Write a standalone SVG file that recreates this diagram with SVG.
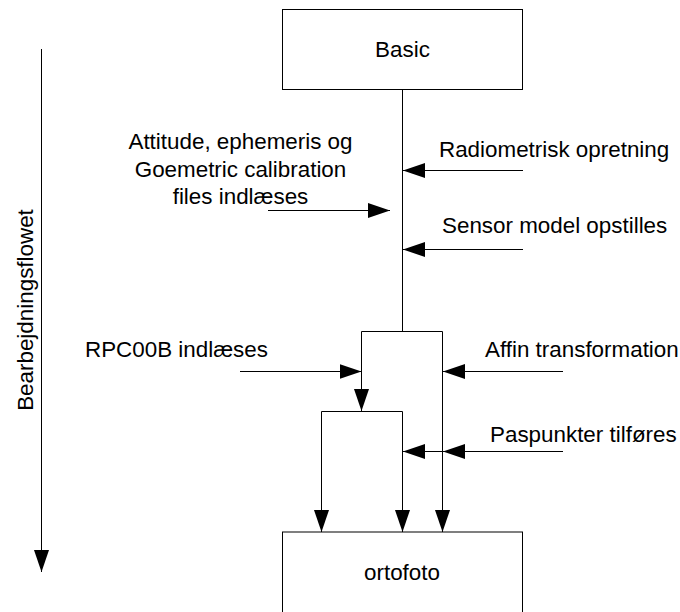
<svg xmlns="http://www.w3.org/2000/svg" width="680" height="612" viewBox="0 0 680 612">
  <style>
    .box { fill: #ffffff; stroke: #000000; stroke-width: 1; }
    .line { fill: none; stroke: #000000; stroke-width: 1; }
    .arrow { marker-end: url(#head); }
    text { font-family: "Liberation Sans", Arial, sans-serif; font-size: 22.4px; fill: #000000; }
    .mid { text-anchor: middle; }
  </style>
  <defs>
    <marker id="head" markerUnits="userSpaceOnUse" markerWidth="23" markerHeight="16" refX="22" refY="7.5" orient="auto">
      <path d="M0,0 L22,7.5 L0,15 Z" fill="#000000"/>
    </marker>
  </defs>

  <rect width="680" height="612" fill="#ffffff"/>

  <!-- process direction axis -->
  <g id="axis">
    <path class="line arrow" d="M41.5,49 V572"/>
    <text class="mid" transform="translate(33,310) rotate(-90)">Bearbejdningsflowet</text>
  </g>

  <g id="basic">
    <rect class="box" x="282.5" y="9.5" width="240" height="80"/>
    <text class="mid" x="402.5" y="57">Basic</text>
  </g>

  <g id="ortofoto">
    <rect class="box" x="282.5" y="532" width="240" height="100"/>
    <text class="mid" x="402" y="580">ortofoto</text>
  </g>

  <g id="labels">
    <text class="mid" x="240.5" y="149">Attitude, ephemeris og</text>
    <text class="mid" x="240.5" y="176.5">Goemetric calibration</text>
    <text class="mid" x="240.5" y="203.5">files indlæses</text>
    <text x="439" y="157">Radiometrisk opretning</text>
    <text x="442" y="233">Sensor model opstilles</text>
    <text x="85" y="357">RPC00B indlæses</text>
    <text x="485" y="357">Affin transformation</text>
    <text x="490" y="442">Paspunkter tilføres</text>
  </g>

  <g id="connectors">
    <!-- main flow -->
    <path class="line" d="M402.5,90 V331.5 M361.5,331.5 H442.5 M321.5,411.5 H402.5"/>
    <path class="line arrow" d="M361.5,331.5 V411"/>
    <path class="line arrow" d="M442.5,331.5 V532"/>
    <path class="line arrow" d="M321.5,411.5 V532"/>
    <path class="line arrow" d="M402.5,411.5 V532"/>
    <!-- inputs -->
    <path class="line arrow" d="M268,210.5 H390"/>
    <path class="line arrow" d="M523,170.5 H403"/>
    <path class="line arrow" d="M523,249.5 H403"/>
    <path class="line arrow" d="M240,371.5 H361.5"/>
    <path class="line arrow" d="M563,371.5 H443"/>
    <path class="line arrow" d="M563,451.5 H443"/>
    <path class="line arrow" d="M443,451.5 H403"/>
  </g>
</svg>
